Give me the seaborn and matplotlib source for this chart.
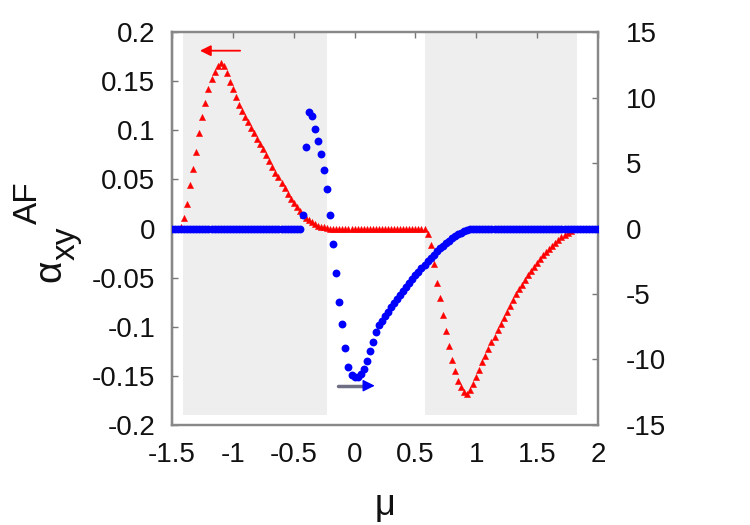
import matplotlib
matplotlib.use("Agg")
import matplotlib.pyplot as plt
import seaborn as sns
from matplotlib.ticker import FuncFormatter

# chemical potential grid (step 0.025)
mu = [-1.5, -1.475, -1.45, -1.425, -1.4, -1.375, -1.35, -1.325,
      -1.3, -1.275, -1.25, -1.225, -1.2, -1.175, -1.15, -1.125,
      -1.1, -1.075, -1.05, -1.025, -1.0, -0.975, -0.95, -0.925,
      -0.9, -0.875, -0.85, -0.825, -0.8, -0.775, -0.75, -0.725,
      -0.7, -0.675, -0.65, -0.625, -0.6, -0.575, -0.55, -0.525,
      -0.5, -0.475, -0.45, -0.425, -0.4, -0.375, -0.35, -0.325,
      -0.3, -0.275, -0.25, -0.225, -0.2, -0.175, -0.15, -0.125,
      -0.1, -0.075, -0.05, -0.025, 0.0, 0.025, 0.05, 0.075,
      0.1, 0.125, 0.15, 0.175, 0.2, 0.225, 0.25, 0.275,
      0.3, 0.325, 0.35, 0.375, 0.4, 0.425, 0.45, 0.475,
      0.5, 0.525, 0.55, 0.575, 0.6, 0.625, 0.65, 0.675,
      0.7, 0.725, 0.75, 0.775, 0.8, 0.825, 0.85, 0.875,
      0.9, 0.925, 0.95, 0.975, 1.0, 1.025, 1.05, 1.075,
      1.1, 1.125, 1.15, 1.175, 1.2, 1.225, 1.25, 1.275,
      1.3, 1.325, 1.35, 1.375, 1.4, 1.425, 1.45, 1.475,
      1.5, 1.525, 1.55, 1.575, 1.6, 1.625, 1.65, 1.675,
      1.7, 1.725, 1.75, 1.775, 1.8, 1.825, 1.85, 1.875,
      1.9, 1.925, 1.95, 1.975, 2.0]

# red triangles, left axis
alpha_af = [0, 0, 0, 0.002, 0.011, 0.025, 0.044, 0.061,
            0.078, 0.097, 0.113, 0.128, 0.142, 0.152, 0.159, 0.165,
            0.168, 0.165, 0.158, 0.149, 0.142, 0.134, 0.126, 0.120,
            0.114, 0.108, 0.102, 0.097, 0.091, 0.086, 0.081, 0.075,
            0.069, 0.063, 0.057, 0.052, 0.046, 0.041, 0.035, 0.030,
            0.026, 0.022, 0.018, 0.014, 0.011, 0.0083, 0.0062, 0.0043,
            0.0030, 0.0019, 0.0012, 0.0006, 0, 0, 0, 0,
            0, 0, 0, 0, 0, 0, 0, 0,
            0, 0, 0, 0, 0, 0, 0, 0,
            0, 0, 0, 0, 0, 0, 0, 0,
            0, 0, 0, -0.001, -0.006, -0.017, -0.036, -0.055,
            -0.071, -0.088, -0.104, -0.120, -0.134, -0.145, -0.155, -0.161,
            -0.166, -0.168, -0.164, -0.158, -0.151, -0.144, -0.136, -0.130,
            -0.123, -0.116, -0.110, -0.103, -0.097, -0.091, -0.085, -0.079,
            -0.073, -0.067, -0.062, -0.057, -0.052, -0.047, -0.043, -0.039,
            -0.035, -0.031, -0.027, -0.024, -0.021, -0.018, -0.015, -0.012,
            -0.009, -0.007, -0.005, -0.003, -0.001, 0, 0, 0,
            0, 0, 0, 0, 0]

# blue circles, right axis
blue_vals = [0, 0, 0, 0, 0, 0, 0, 0,
             0, 0, 0, 0, 0, 0, 0, 0,
             0, 0, 0, 0, 0, 0, 0, 0,
             0, 0, 0, 0, 0, 0, 0, 0,
             0, 0, 0, 0, 0, 0, 0, 0,
             0, 0, 0, 1.0, 6.2, 8.9, 8.6, 7.6,
             6.7, 5.7, 4.5, 3.0, 1.0, -1.2, -3.4, -5.6,
             -7.3, -9.1, -10.6, -11.2, -11.3, -11.3, -11.1, -10.7,
             -10.1, -9.35, -8.7, -7.9, -7.4, -7.05, -6.7, -6.35,
             -6.0, -5.65, -5.35, -5.05, -4.75, -4.45, -4.15, -3.85,
             -3.55, -3.3, -3.0, -2.75, -2.5, -2.25, -2.0, -1.75,
             -1.5, -1.3, -1.1, -0.92, -0.75, -0.58, -0.44, -0.32,
             -0.21, -0.12, -0.05, -0.01, 0, 0, 0, 0,
             0, 0, 0, 0, 0, 0, 0, 0,
             0, 0, 0, 0, 0, 0, 0, 0,
             0, 0, 0, 0, 0, 0, 0, 0,
             0, 0, 0, 0, 0, 0, 0, 0,
             0, 0, 0, 0, 0]

x_ticks = [-1.5, -1, -0.5, 0, 0.5, 1, 1.5, 2]
left_ticks = [-0.2, -0.15, -0.1, -0.05, 0, 0.05, 0.1, 0.15, 0.2]
right_ticks = [-15, -10, -5, 0, 5, 10, 15]

# shaded windows
shade_regions = [(-1.41, -0.23), (0.58, 1.83)]
shade_bottom = -0.19

sns.set_theme(style="white")
plt.rcParams['font.family'] = ['Liberation Sans', 'DejaVu Sans']
plt.rcParams['axes.unicode_minus'] = False

fig, ax = plt.subplots(figsize=(7.5, 5.25), dpi=100)
fig.subplots_adjust(left=0.2293, right=0.7973, top=0.939, bottom=0.1905)

for lo, hi in shade_regions:
    ax.axvspan(lo, hi, ymin=(shade_bottom + 0.2) / 0.4, ymax=1,
               color='#eeeeee', lw=0, zorder=0)

sns.scatterplot(x=mu, y=alpha_af, ax=ax, color='#ff0000', marker='^',
                s=20, linewidth=0.3, edgecolor='#ff0000', zorder=3)
ax.set_xlim(-1.5, 2)
ax.set_ylim(-0.2, 0.2)
ax.set_xticks(x_ticks)
ax.set_yticks(left_ticks)
fmt = FuncFormatter(lambda v, p: '%g' % round(v, 3))
ax.xaxis.set_major_formatter(fmt)
ax.yaxis.set_major_formatter(fmt)

ax2 = ax.twinx()
sns.scatterplot(x=mu, y=blue_vals, ax=ax2, color='#0000ff', marker='o',
                s=32, linewidth=0, zorder=3)
ax2.set_ylim(-15, 15)
ax2.set_yticks(right_ticks)
ax2.yaxis.set_major_formatter(fmt)
ax2.set_ylabel('')
ax.set_ylabel('')

# arrows pointing at the axis each series belongs to
ax.annotate('', xy=(-1.27, 0.181), xytext=(-0.94, 0.181),
            arrowprops=dict(arrowstyle='-|>', color='#ff0000', lw=1.3,
                            mutation_scale=16, shrinkA=0, shrinkB=0))
ax2.plot([-0.133, 0.09], [-12.0, -12.0], color='#6e6e84', lw=2.5, zorder=4)
ax2.annotate('', xy=(0.166, -12.0), xytext=(0.08, -12.0),
             arrowprops=dict(arrowstyle='-|>', color='#0000ff', lw=1,
                             mutation_scale=18, shrinkA=0, shrinkB=0),
             zorder=5)

for a in (ax, ax2):
    for s in a.spines.values():
        s.set_color('#888888')
        s.set_linewidth(1.6)
ax.spines['left'].set_color('#222222')

ax.tick_params(axis='both', direction='in', length=4, width=1, color='#777777',
               labelsize=20, top=True, labelcolor='#111111')
ax.tick_params(axis='y', pad=12)
ax.tick_params(axis='x', pad=12)
ax2.tick_params(axis='y', direction='in', length=4, width=1, color='#777777',
                labelsize=20, pad=20, labelcolor='#111111')

ax.set_xlabel('μ', fontsize=26, labelpad=15, color='#111111')

# y label: alpha_xy^AF, built piecewise so sub/superscript keep full size
fig.text(50 / 750, 1 - 271 / 525, 'α', rotation=90, fontsize=28,
         ha='center', va='center', color='#111111')
fig.text(66 / 750, 1 - 243 / 525, 'xy', rotation=90, fontsize=24,
         ha='center', va='center', color='#111111')
fig.text(28 / 750, 1 - 203 / 525, 'AF', rotation=90, fontsize=24,
         ha='center', va='center', color='#111111')

fig.savefig('out.png', dpi=100)
